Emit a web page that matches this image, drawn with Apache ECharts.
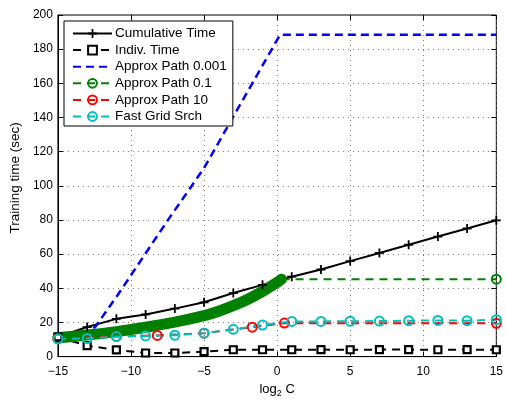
<!DOCTYPE html>
<html>
<head>
<meta charset="utf-8">
<script src="https://cdn.jsdelivr.net/npm/echarts@6/dist/echarts.min.js"></script>
<style>
  html, body { margin: 0; padding: 0; background: #fff; }
  #chart { width: 506px; height: 403px; }
</style>
</head>
<body>
<div id="chart"></div>
<script>
// Grid of log2 C values used by the grid-based runs
const gridLogC = [-15, -13, -11, -9, -7, -5, -3, -1, 1, 3, 5, 7, 9, 11, 13, 15];
const cumulativeTime = [11.5, 17.3, 22.1, 24.7, 28.1, 31.8, 37.2, 42.0, 46.8, 51.0, 55.9, 60.7, 65.5, 70.3, 75.0, 79.8];
const indivTime = [11.5, 6.4, 3.9, 2.1, 2.1, 2.9, 4.0, 4.0, 4.0, 4.1, 4.0, 4.1, 4.1, 4.0, 4.1, 4.0];
const fastGridTime = [10.3, 10.6, 11.7, 12.1, 12.5, 13.7, 16.0, 18.5, 20.6, 20.6, 20.7, 20.8, 21.0, 21.2, 21.0, 21.6];

// Approximate path, tolerance 0.001
const path001LogC = [-15, -13.2, -12.4, -10.9, -7.5, -5.0, -2.5, 0.2, 15];
const path001Time = [10.5, 11.5, 17.9, 36.2, 79.6, 110.4, 148, 188.4, 188.4];

// Approximate path, tolerance 0.1 (dense path, then held to the end)
const path01LogC = [-15, -13, -11, -9, -7, -5, -4, -3, -2, -1, 0, 0.3];
const path01Time = [11, 12.6, 14.6, 17.2, 20.2, 24, 26.6, 29.8, 33.6, 38.2, 43.4, 45.3];
const path01EndLogC = 15;

// Approximate path, tolerance 10
const path10LogC = [-15, -11, -8.2, -5, -1.7, 0.5, 15];
const path10Time = [10.5, 11.8, 12.4, 13.7, 17.2, 19.6, 19.5];

const yTicks = [0, 20, 40, 60, 80, 100, 120, 140, 160, 180, 200];
const xTicks = [-15, -10, -5, 0, 5, 10, 15];

const seriesNames = ['Cumulative Time', 'Indiv. Time', 'Approx Path 0.001', 'Approx Path 0.1', 'Approx Path 10', 'Fast Grid Srch'];

const zip = (xs, ys) => xs.map((x, i) => [x, ys[i]]);
const FONT = 'Liberation Sans, Arial, Helvetica, sans-serif';
const plus = 'path://M4,0H6V4H10V6H6V10H4V6H0V4H4Z';

const chart = echarts.init(document.getElementById('chart'), null, { renderer: 'canvas' });

const pathTail = [[path01LogC[path01LogC.length - 1], path01Time[path01Time.length - 1]],
                  [path01EndLogC, path01Time[path01Time.length - 1]]];

// Legend entries: the plain dashed path shows no marker in its key
const legendData = seriesNames.map(n => n === 'Approx Path 0.001'
  ? { name: n, itemStyle: { color: 'rgba(0,0,0,0)', borderWidth: 0, opacity: 0 } }
  : { name: n });

chart.setOption({
  animation: false,
  backgroundColor: '#fff',
  textStyle: { fontFamily: FONT },
  grid: { left: 57, right: 9, top: 15, bottom: 42, show: true, borderColor: '#000', borderWidth: 1 },
  legend: {
    data: legendData,
    orient: 'vertical',
    left: 64, top: 21,
    padding: [5.5, 6, 2.5, 8],
    itemWidth: 39, itemHeight: 11, itemGap: 2.6,
    backgroundColor: '#fff',
    borderColor: '#000', borderWidth: 1,
    textStyle: { fontFamily: FONT, fontSize: 13.5, color: '#000', padding: [0, 0, 0, -2] }
  },
  xAxis: [{
    type: 'value', min: -15, max: 15, interval: 5,
    name: '{a|log}{b|2}{a| C}', nameLocation: 'middle', nameGap: 23,
    nameTextStyle: {
      rich: {
        a: { fontFamily: FONT, fontSize: 13, color: '#000' },
        b: { fontFamily: FONT, fontSize: 9, color: '#000', padding: [9, 0, 0, 0] }
      }
    },
    axisLine: { onZero: false, lineStyle: { color: '#000', width: 1 } },
    axisTick: { inside: true, length: 5, lineStyle: { color: '#000' } },
    axisLabel: { color: '#000', fontSize: 12, margin: 9, formatter: v => String(v).replace('-', '\u2212') },
    splitLine: { show: true, lineStyle: { color: '#777', width: 1, type: [1, 4] } }
  }, {
    type: 'value', min: -15, max: 15, interval: 5, position: 'top',
    axisLine: { show: false, onZero: false }, axisLabel: { show: false }, splitLine: { show: false },
    axisTick: { inside: true, length: 5, lineStyle: { color: '#000' } }
  }],
  yAxis: [{
    type: 'value', min: 0, max: 200, interval: 20,
    name: 'Training time (sec)', nameLocation: 'middle', nameGap: 32,
    nameTextStyle: { fontFamily: FONT, fontSize: 13.5, color: '#000', padding: [0, 0, 0, 16] },
    axisLine: { show: true, onZero: false, lineStyle: { color: '#000', width: 1 } },
    axisTick: { show: true, inside: true, length: 5, lineStyle: { color: '#000' } },
    axisLabel: { color: '#000', fontSize: 12, margin: 5 },
    splitLine: { show: true, lineStyle: { color: '#777', width: 1, type: [1, 4] } }
  }, {
    type: 'value', min: 0, max: 200, interval: 20, position: 'right',
    axisLine: { show: false, onZero: false }, axisLabel: { show: false }, splitLine: { show: false },
    axisTick: { show: true, inside: true, length: 5, lineStyle: { color: '#000' } }
  }],
  series: [
    {
      name: 'Cumulative Time', type: 'line', data: zip(gridLogC, cumulativeTime),
      symbol: plus, symbolSize: 9, showAllSymbol: true,
      lineStyle: { color: '#000', width: 2 },
      itemStyle: { color: '#000', borderWidth: 0 }
    },
    {
      name: 'Indiv. Time', type: 'line', data: zip(gridLogC, indivTime),
      symbol: 'rect', symbolSize: 7, showAllSymbol: true,
      lineStyle: { color: '#000', width: 2, type: [8, 6] },
      itemStyle: { color: '#fff', borderColor: '#000', borderWidth: 2.2 }
    },
    {
      name: 'Approx Path 0.001', type: 'line', data: zip(path001LogC, path001Time),
      symbol: 'none',
      lineStyle: { color: '#0000ff', width: 2.5, type: [8, 5] },
      itemStyle: { color: '#0000ff' }
    },
    {
      name: 'Approx Path 0.1 band', type: 'line', data: zip(path01LogC, path01Time),
      symbol: 'none', smooth: 0.3,
      lineStyle: { color: '#008000', width: 11, cap: 'round', join: 'round' }
    },
    {
      name: 'Approx Path 0.1', type: 'line',
      data: [{ value: pathTail[0], symbol: 'none' }, { value: pathTail[1] }],
      symbol: 'circle', symbolSize: 9,
      lineStyle: { color: '#008000', width: 2, type: [8, 6] },
      itemStyle: { color: 'rgba(255,255,255,0)', borderColor: '#008000', borderWidth: 2 }
    },
    {
      name: 'Approx Path 10', type: 'line', data: zip(path10LogC, path10Time),
      symbol: 'circle', symbolSize: 9, showAllSymbol: true,
      lineStyle: { color: '#ff0000', width: 2, type: [8, 6] },
      itemStyle: { color: 'rgba(255,255,255,0)', borderColor: '#ff0000', borderWidth: 2 }
    },
    {
      name: 'Fast Grid Srch', type: 'line', data: zip(gridLogC, fastGridTime),
      symbol: 'circle', symbolSize: 9, showAllSymbol: true,
      lineStyle: { color: '#00bfbf', width: 2, type: [8, 6] },
      itemStyle: { color: 'rgba(255,255,255,0)', borderColor: '#00bfbf', borderWidth: 2 }
    }
  ]
});
</script>
</body>
</html>
